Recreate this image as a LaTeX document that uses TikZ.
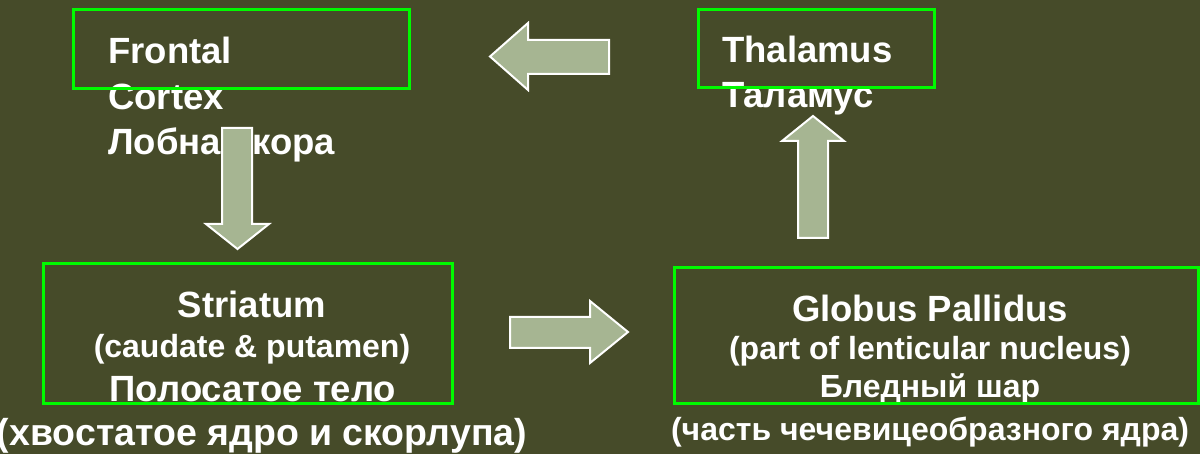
\documentclass[tikz,border=0pt]{standalone}
\usepackage{fontspec}
\setmainfont{Liberation Sans}
\definecolor{bg}{RGB}{70,75,41}
\definecolor{boxgreen}{RGB}{0,250,0}
\definecolor{arrowfill}{RGB}{166,181,146}
\tikzset{
  box/.style={draw=boxgreen, line width=3pt, inner sep=0pt, outer sep=0pt},
  big/.style={text=white, inner sep=0pt, font=\fontsize{36.5}{44}\bfseries\selectfont},
  bigger/.style={text=white, inner sep=0pt, font=\fontsize{37.5}{44}\bfseries\selectfont},
  small/.style={text=white, inner sep=0pt, font=\fontsize{32}{40}\bfseries\selectfont},
  blockarrow/.style={fill=arrowfill, draw=white, line width=2pt, line join=miter}
}
\begin{document}
\begin{tikzpicture}[x=1pt,y=-1pt]
\fill[bg] (0,0) rectangle (1200,454);
\useasboundingbox (0,0) rectangle (1200,454);

% texts
\node[big, anchor=base west] (fr1) at (108,64) {Frontal};
\node[big, anchor=base west] (fr2) at (108,110) {Cortex};
\node[big, anchor=base west] (fr3) at (108,155) {Лобная кора};

\node[big, anchor=base west] (th1) at (722,63) {Thalamus};
\node[big, anchor=base west] (th2) at (722,108) {Таламус};

\node[big, anchor=base] (st1) at (252,318) {Striatum};
\node[small, anchor=base] (st2) at (252,358) {(caudate \& putamen)};
\node[big, anchor=base] (st3) at (253,401) {Полосатое тело};
\node[bigger, anchor=base] (st4) at (262,445) {(хвостатое ядро и скорлупа)};

\node[big, anchor=base] (gp1) at (930,322) {Globus Pallidus};
\node[small, anchor=base] (gp2) at (930,360) {(part of lenticular nucleus)};
\node[small, anchor=base] (gp3) at (930,398) {Бледный шар};
\node[small, anchor=base] (gp4) at (930,440) {(часть чечевицеобразного ядра)};

% boxes
\node[box, minimum width=336pt, minimum height=79pt] (frontal) at (241,49.5) {};
\node[box, minimum width=236pt, minimum height=78pt] (thalamus) at (816,49) {};
\node[box, minimum width=409pt, minimum height=139pt] (striatum) at (247.5,333.5) {};
\node[box, minimum width=524pt, minimum height=135pt] (globus) at (936,335.5) {};

% block arrows
\draw[blockarrow] (609,40) -- (528,40) -- (528,23) -- (490,56.5) -- (528,90) -- (528,74) -- (609,74) -- cycle;
\draw[blockarrow] (222,128) -- (252,128) -- (252,224) -- (269,224) -- (237.5,249) -- (206,224) -- (222,224) -- cycle;
\draw[blockarrow] (510,317) -- (590,317) -- (590,301) -- (628,332) -- (590,363) -- (590,348) -- (510,348) -- cycle;
\draw[blockarrow] (798,238) -- (798,141) -- (782,141) -- (813,116) -- (844,141) -- (828,141) -- (828,238) -- cycle;
\end{tikzpicture}
\end{document}
